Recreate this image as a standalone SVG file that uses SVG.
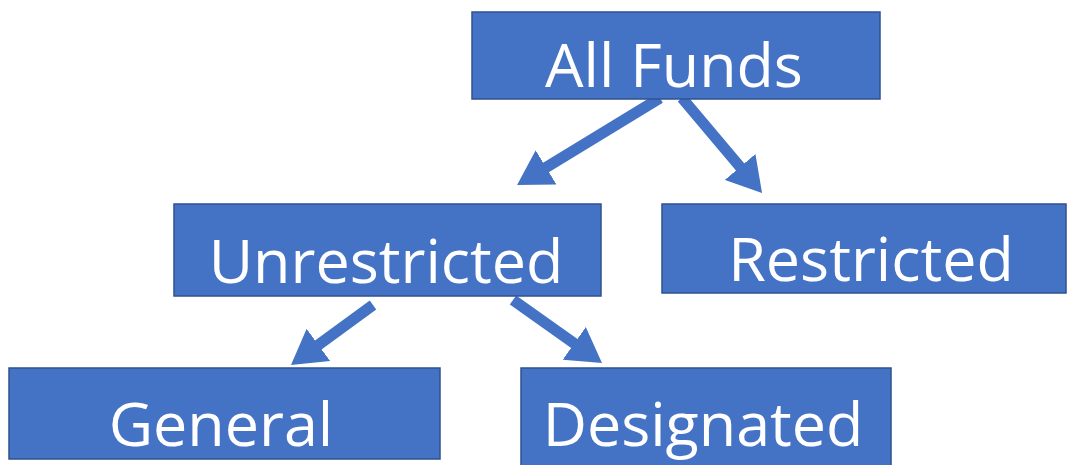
<svg xmlns="http://www.w3.org/2000/svg" width="1068" height="465" viewBox="0 0 1068 465">
<style>
.box{fill:#4472C4;stroke:#2F528F;stroke-width:1.5}
.lbl{fill:#ffffff;font-family:"Open Sans","Noto Sans",sans-serif;font-size:61px;text-anchor:middle}
.conn{stroke:#4472C4;stroke-width:11;fill:none;marker-end:url(#ah)}
</style>
<defs>
<marker id="ah" markerUnits="userSpaceOnUse" viewBox="0 0 34 40" markerWidth="34" markerHeight="40" refX="4" refY="20" orient="auto">
<path d="M0,0 L34,20 L0,40 z" fill="#4472C4"/>
</marker>
</defs>
<rect width="1068" height="465" fill="#ffffff"/>
<g id="connectors">
<line class="conn" x1="660" y1="98" x2="542.7" y2="169.5"/>
<line class="conn" x1="682" y1="98" x2="742.7" y2="170"/>
<line class="conn" x1="373" y1="305" x2="315.2" y2="347.3"/>
<line class="conn" x1="513" y1="300" x2="577.5" y2="345.7"/>
</g>
<g id="all-funds">
<rect class="box" x="472" y="12" width="408" height="87"/>
<text class="lbl" x="674" y="87">All Funds</text>
</g>
<g id="unrestricted">
<rect class="box" x="174" y="204" width="427" height="92"/>
<text class="lbl" x="386" y="283">Unrestricted</text>
</g>
<g id="restricted">
<rect class="box" x="662" y="204" width="404" height="89"/>
<text class="lbl" x="871" y="281">Restricted</text>
</g>
<g id="general">
<rect class="box" x="9" y="368" width="431" height="91"/>
<text class="lbl" x="221" y="446">General</text>
</g>
<g id="designated">
<rect class="box" x="521" y="368" width="370" height="100"/>
<text class="lbl" x="703" y="446">Designated</text>
</g>
</svg>
